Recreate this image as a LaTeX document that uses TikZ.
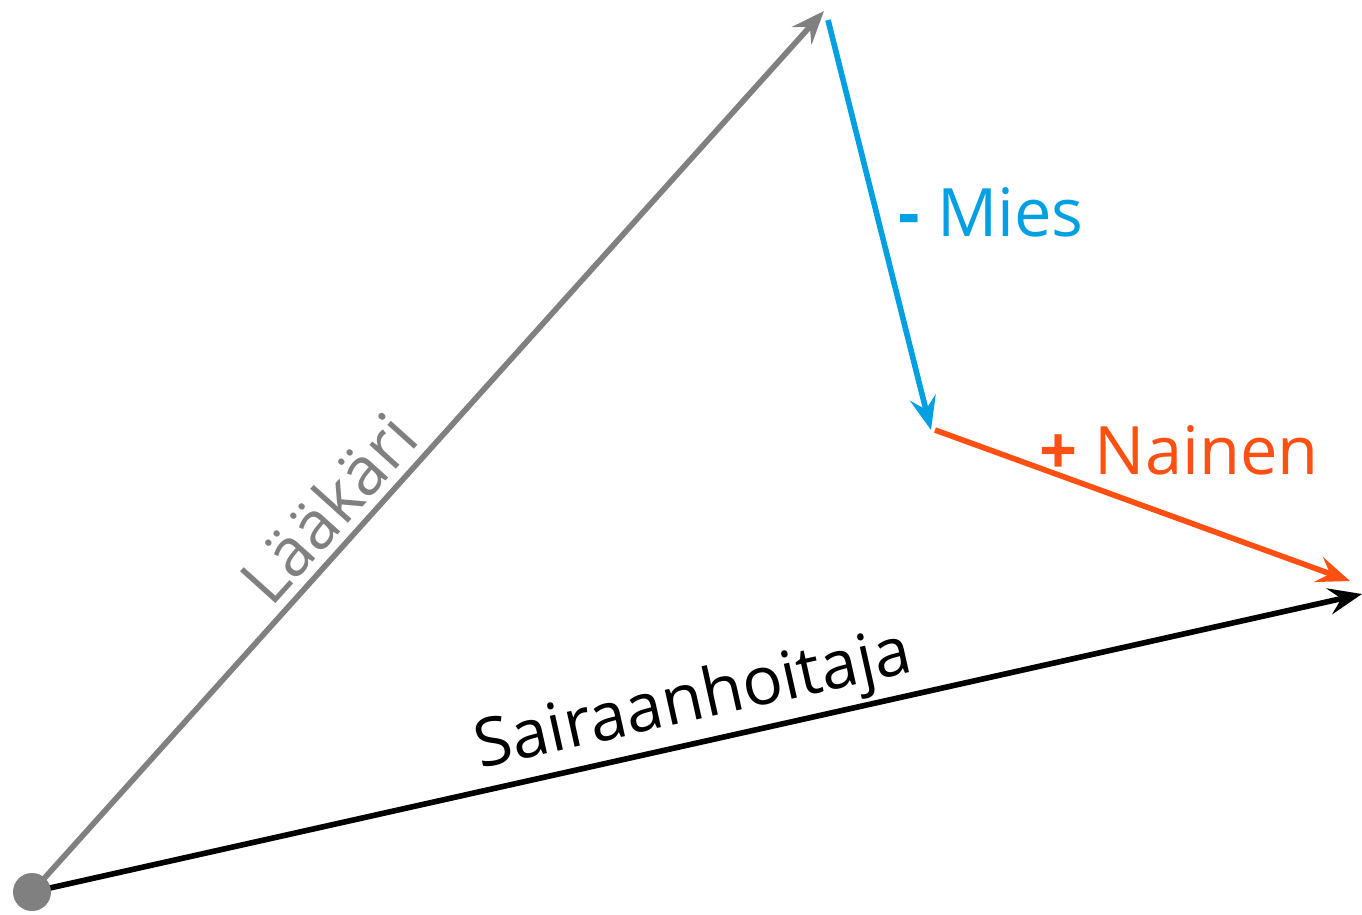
\documentclass[tikz,border=0pt]{standalone}
\usepackage{fontspec}
\setmainfont{Open Sans}
\usetikzlibrary{arrows.meta}
\definecolor{vgray}{RGB}{128,128,128}
\definecolor{vblue}{RGB}{0,160,226}
\definecolor{vorange}{RGB}{255,80,20}
\tikzset{
  vec/.style={line width=3.2pt, -{Stealth[length=19pt,width=15pt,inset=7pt]}},
  lbl/.style={font=\fontsize{38}{42}\selectfont, inner sep=0pt}
}
\begin{document}
\begin{tikzpicture}[x=0.02cm,y=-0.02cm]
\useasboundingbox (0,0) rectangle (1362,915);
\coordinate (O) at (32,892);
\coordinate (L) at (824,11);
\coordinate (M0) at (828,20);
\coordinate (M1) at (931,430);
\coordinate (N0) at (935,430);
\coordinate (N1) at (1350,581);
\coordinate (S) at (1362,594);
\draw[vec, vgray] (O) -- (L);
\draw[vec, vblue] (M0) -- (M1);
\draw[vec, vorange] (N0) -- (N1);
\draw[vec, black] (O) -- (S);
\fill[vgray] (O) circle (19);
\node[lbl, text=vgray, rotate=48] (tl) at (328,508) {Lääkäri};
\node[lbl, text=black, rotate=12.6] (ts) at (694,703) {Sairaanhoitaja};
\node[lbl, text=vblue] (tm) at (991,212) {\textbf{-} Mies};
\node[lbl, text=vorange] (tn) at (1179,450) {\textbf{+} Nainen};
\end{tikzpicture}
\end{document}
